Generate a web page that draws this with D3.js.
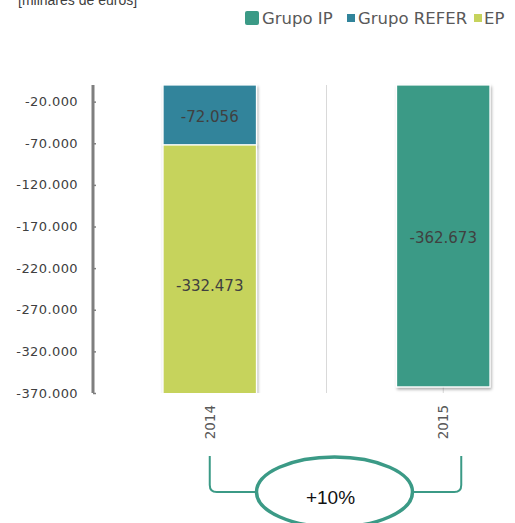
<!DOCTYPE html>
<html>
<head>
<meta charset="utf-8">
<script src="https://cdn.jsdelivr.net/npm/d3@7"></script>
<style>
  html, body { margin: 0; padding: 0; background: #fff; }
  svg { display: block; }
</style>
</head>
<body>
<svg id="chart" width="515" height="523"></svg>
<script>
// Years on the category axis
const years = ["2014", "2015"];
// Series names and colours (legend order)
const seriesNames = ["Grupo IP", "Grupo REFER", "EP"];
const seriesColors = ["#3b9a86", "#31849b", "#c6d35c"];
// Values in thousands of euros, per series, per year
const grupoIP = [0, -362673];
const grupoREFER = [-72056, 0];
const ep = [-332473, 0];
// Y axis ticks
const yTicks = [-20000, -70000, -120000, -170000, -220000, -270000, -320000, -370000];
const changeLabel = "+10%";
const unitLabel = "[milhares de euros]";

const svg = d3.select("#chart");
const fmt = v => d3.format(",")(v).replace(/,/g, ".").replace("−", "-");

const x = d3.scaleBand().domain(years).range([93, 560]).padding(0);
const y = d3.scaleLinear().domain([-370000, 0]).range([393, 85]);
const barW = x.bandwidth() * 0.4;

const defs = svg.append("defs");
defs.append("clipPath").attr("id", "plot")
  .append("rect").attr("x", 93).attr("y", 80).attr("width", 470).attr("height", 313);
const f = defs.append("filter").attr("id", "shadow")
  .attr("x", "-20%").attr("y", "-20%").attr("width", "140%").attr("height", "140%");
f.append("feDropShadow").attr("dx", 1).attr("dy", 2).attr("stdDeviation", 1.6)
  .attr("flood-color", "#000").attr("flood-opacity", 0.35);

// Unit caption (sits at the very top edge)
svg.append("text").attr("x", 18).attr("y", 5)
  .attr("font-family", "Liberation Sans, Arial, sans-serif").attr("font-size", 14)
  .attr("fill", "#404040").text(unitLabel);

// Vertical category lines
const vLines = [x("2014") + x.bandwidth() / 2, x("2015"), x("2015") + x.bandwidth() / 2];
svg.append("g").selectAll("line").data(vLines).join("line")
  .attr("x1", d => d).attr("x2", d => d).attr("y1", y(0)).attr("y2", y(-370000))
  .attr("stroke", "#d9d9d9").attr("stroke-width", 1);

// Stack the series per year
const stackData = years.map((yr, i) => ({ year: yr, "Grupo IP": grupoIP[i], "Grupo REFER": grupoREFER[i], "EP": ep[i] }));
const stack = d3.stack().keys(["Grupo REFER", "EP", "Grupo IP"]).offset(d3.stackOffsetDiverging);
const layers = stack(stackData);
const colorOf = d3.scaleOrdinal().domain(seriesNames).range(seriesColors);

const plot = svg.append("g").attr("clip-path", "url(#plot)");
const segs = [];
layers.forEach(layer => {
  layer.forEach(d => {
    const v = d.data[layer.key];
    if (v !== 0) segs.push({ key: layer.key, year: d.data.year, y0: d[0], y1: d[1], v });
  });
});

plot.selectAll("rect").data(segs).join("rect")
  .attr("x", d => x(d.year) + (x.bandwidth() - barW) / 2)
  .attr("width", barW)
  .attr("y", d => y(Math.max(d.y0, d.y1)))
  .attr("height", d => y(Math.min(d.y0, d.y1)) - y(Math.max(d.y0, d.y1)))
  .attr("fill", d => colorOf(d.key))
  .attr("stroke", "#fff").attr("stroke-width", 1.2)
  .attr("filter", "url(#shadow)");

// Value labels at segment centres
svg.append("g").selectAll("text").data(segs).join("text")
  .attr("x", d => x(d.year) + x.bandwidth() / 2)
  .attr("y", d => y((d.y0 + d.y1) / 2) + 2)
  .attr("dy", "0.35em")
  .attr("text-anchor", "middle")
  .attr("font-family", "DejaVu Sans, sans-serif").attr("font-size", 15)
  .attr("fill", "#404040")
  .text(d => fmt(d.v));

// Y axis
const yAxis = d3.axisRight(y).tickValues(yTicks).tickSize(3).tickFormat("");
const gy = svg.append("g").attr("transform", "translate(93,0)").call(yAxis);
gy.select(".domain").attr("stroke", "#7f7f7f").attr("stroke-width", 3).attr("d", `M0,${y(0)}V${y(-370000)}`);
gy.selectAll(".tick line").attr("stroke", "#7f7f7f").attr("stroke-width", 1.5);
svg.append("g").selectAll("text").data(yTicks).join("text")
  .attr("x", 78).attr("y", d => y(d)).attr("dy", "0.35em")
  .attr("text-anchor", "end")
  .attr("font-family", "DejaVu Sans, sans-serif").attr("font-size", 13)
  .attr("letter-spacing", 0.4)
  .attr("fill", "#404040")
  .text(d => fmt(d));

// Category labels, rotated
svg.append("g").selectAll("text").data(years).join("text")
  .attr("transform", d => `translate(${x(d) + x.bandwidth() / 2 + 5},405) rotate(-90)`)
  .attr("text-anchor", "end")
  .attr("font-family", "DejaVu Sans, sans-serif").attr("font-size", 13.5)
  .attr("fill", "#595959")
  .text(d => d);

// Legend
const legend = [
  { name: "Grupo IP", sx: 245, size: 14, tx: 262 },
  { name: "Grupo REFER", sx: 347, size: 8, tx: 358 },
  { name: "EP", sx: 474, size: 8, tx: 484 }
];
const lg = svg.append("g");
lg.selectAll("rect").data(legend).join("rect")
  .attr("x", d => d.sx).attr("y", d => 18 - d.size / 2)
  .attr("width", d => d.size).attr("height", d => d.size)
  .attr("rx", d => d.size > 10 ? 2 : 0)
  .attr("fill", d => colorOf(d.name));
lg.selectAll("text").data(legend).join("text")
  .attr("x", d => d.tx).attr("y", 18).attr("dy", "0.35em")
  .attr("font-family", "DejaVu Sans, sans-serif").attr("font-size", 16.5)
  .attr("fill", "#595959")
  .text(d => d.name);

// Change bracket between years
const cx1 = x("2014") + x.bandwidth() / 2, cx2 = x("2015") + x.bandwidth() / 2;
const ex = (cx1 + cx2) / 2 + 8, ey = 492, rx = 78, ry = 35;
const bracket = svg.append("g").attr("fill", "none").attr("stroke", "#3b9a86");
bracket.append("path").attr("stroke-width", 2)
  .attr("d", `M${cx1},456 L${cx1},485 Q${cx1},${ey} ${cx1 + 7},${ey} L${ex - rx},${ey}`);
bracket.append("path").attr("stroke-width", 2)
  .attr("d", `M${ex + rx},${ey} L${cx2 + 11},${ey} Q${cx2 + 18},${ey} ${cx2 + 18},485 L${cx2 + 18},456`);
bracket.append("ellipse").attr("cx", ex).attr("cy", ey).attr("rx", rx).attr("ry", ry)
  .attr("fill", "#fff").attr("stroke-width", 3.5);
svg.append("text").attr("x", ex - 4).attr("y", 497).attr("dy", "0.35em")
  .attr("text-anchor", "middle")
  .attr("font-family", "Liberation Sans, Arial, sans-serif").attr("font-size", 19)
  .attr("fill", "#111")
  .text(changeLabel);
</script>
</body>
</html>
